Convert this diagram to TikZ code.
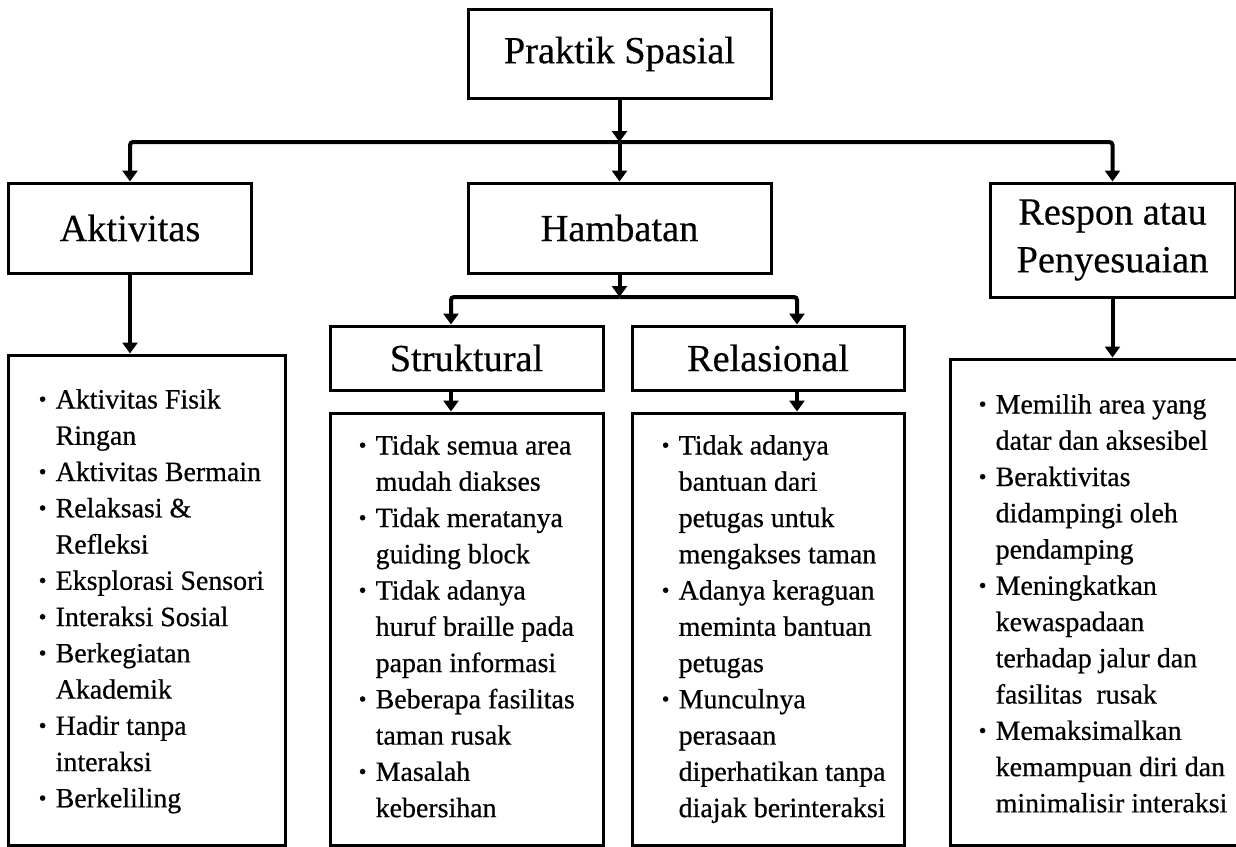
\documentclass[tikz,border=0pt]{standalone}
\usepackage{fontspec}
\setmainfont[FakeBold=0.6]{Liberation Serif}
\newfontfamily\headfont[FakeBold=0.4]{Liberation Serif}
\usetikzlibrary{arrows.meta,calc}
\newcommand{\bul}{\makebox[17bp][l]{\raisebox{0.15ex}{\scalebox{0.8}{\textbullet}}}}
\newcommand{\ind}{\hspace*{17bp}}
\tikzset{
  box/.style={draw, line width=3bp, inner sep=0pt, font=\headfont\fontsize{38.5}{48}\selectfont, align=center},
  lbox/.style={draw, line width=3bp, inner sep=0pt},
  ltext/.style={inner sep=0pt, anchor=base west, font=\fontsize{28}{36.4}\selectfont},
  conn/.style={line width=4bp, rounded corners=3bp},
  arr/.style={line width=4bp, -{Triangle[width=15bp,length=11bp]}, rounded corners=3bp}
}
\begin{document}
\begin{tikzpicture}[x=1bp,y=-1bp]
\useasboundingbox (0,0) rectangle (1236,847);
% header boxes
\node[box, minimum width=303bp, minimum height=88bp] (pra) at (619.5,54) {Praktik Spasial};
\node[box, minimum width=242bp, minimum height=90bp] (akt) at (130,228) {Aktivitas};
\node[box, minimum width=303bp, minimum height=90bp] (ham) at (619.5,228) {Hambatan};
\node[box, minimum width=245bp, minimum height=114bp] (res) at (1112.5,240) {Respon atau\\Penyesuaian};
\node[box, minimum width=273bp, minimum height=64bp] (str) at (466.5,358) {Struktural};
\node[box, minimum width=272bp, minimum height=64bp] (rel) at (768,358) {Relasional};
% list boxes
\node[lbox, minimum width=276bp, minimum height=490bp] (aktL) at (147,600) {};
\node[lbox, minimum width=273bp, minimum height=432bp] (strL) at (466.5,629) {};
\node[lbox, minimum width=272bp, minimum height=432bp] (relL) at (768,629) {};
\node[lbox, minimum width=290bp, minimum height=486bp] (resL) at (1095,602) {};
% junctions
\coordinate (j1) at (619.5,142);
\coordinate (j2) at (619.5,297);
\coordinate (jl) at (130,142);
\coordinate (jr) at (1112.5,142);
\coordinate (sl) at (451,297);
\coordinate (sr) at (797,297);
% connectors
\draw[arr] (pra.south) -- (j1);
\draw[arr] (j1) -- (ham.north);
\draw[arr] (j1) -- (jl) -- (akt.north);
\draw[arr] (j1) -- (jr) -- (res.north);
\draw[arr] (ham.south) -- (j2);
\draw[arr] (j2) -- (sl) -- (sl |- str.north);
\draw[arr] (j2) -- (sr) -- (sr |- rel.north);
\draw[arr] (sl |- str.south) -- (sl |- strL.north);
\draw[arr] (sr |- rel.south) -- (sr |- relL.north);
\draw[arr] (akt.south) -- (akt.south |- aktL.north);
\draw[arr] (res.south) -- (res.south |- resL.north);
% list texts
\node[ltext] (aktT) at ($(aktL.north west)+(31,55)$) {\begin{tabular}[t]{@{}l@{}}
\bul Aktivitas Fisik\\ \ind Ringan\\ \bul Aktivitas Bermain\\ \bul Relaksasi \&\\ \ind Refleksi\\ \bul Eksplorasi Sensori\\ \bul Interaksi Sosial\\ \bul Berkegiatan\\ \ind Akademik\\ \bul Hadir tanpa\\ \ind interaksi\\ \bul Berkeliling
\end{tabular}};
\node[ltext] (strT) at ($(strL.north west)+(30,43)$) {\begin{tabular}[t]{@{}l@{}}
\bul Tidak semua area\\ \ind mudah diakses\\ \bul Tidak meratanya\\ \ind guiding block\\ \bul Tidak adanya\\ \ind huruf braille pada\\ \ind papan informasi\\ \bul Beberapa fasilitas\\ \ind taman rusak\\ \bul Masalah\\ \ind kebersihan
\end{tabular}};
\node[ltext] (relT) at ($(relL.north west)+(31,43)$) {\begin{tabular}[t]{@{}l@{}}
\bul Tidak adanya\\ \ind bantuan dari\\ \ind petugas untuk\\ \ind mengakses taman\\ \bul Adanya keraguan\\ \ind meminta bantuan\\ \ind petugas\\ \bul Munculnya\\ \ind perasaan\\ \ind diperhatikan tanpa\\ \ind diajak berinteraksi
\end{tabular}};
\node[ltext] (resT) at ($(resL.north west)+(30,56)$) {\begin{tabular}[t]{@{}l@{}}
\bul Memilih area yang\\ \ind datar dan aksesibel\\ \bul Beraktivitas\\ \ind didampingi oleh\\ \ind pendamping\\ \bul Meningkatkan\\ \ind kewaspadaan\\ \ind terhadap jalur dan\\ \ind fasilitas \ rusak\\ \bul Memaksimalkan\\ \ind kemampuan diri dan\\ \ind minimalisir interaksi
\end{tabular}};
\end{tikzpicture}
\end{document}
